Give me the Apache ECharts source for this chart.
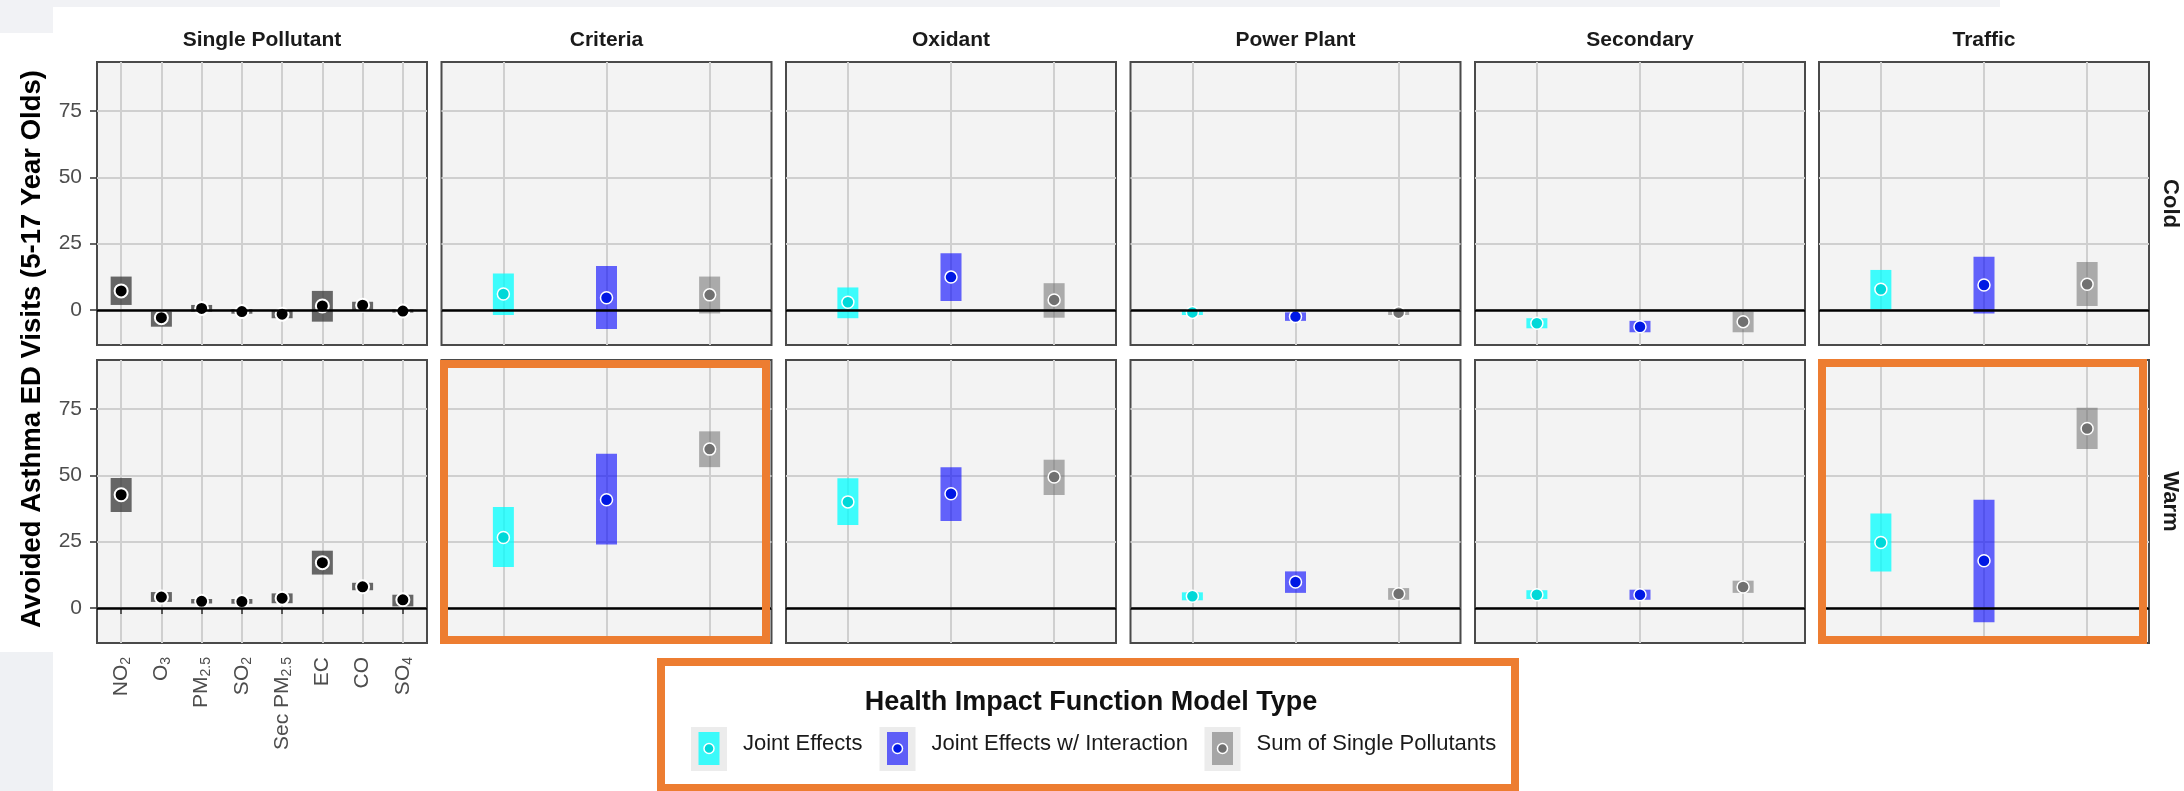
<!DOCTYPE html>
<html>
<head>
<meta charset="utf-8">
<script src="https://cdn.jsdelivr.net/npm/echarts@6/dist/echarts.min.js"></script>
<style>
  html, body { margin: 0; padding: 0; background: #fff; }
  #main { width: 2184px; height: 791px; }
</style>
</head>
<body>
<div id="main"></div>
<script>
// facets
const seasons = ['Cold', 'Warm'];
const panels = ['Single Pollutant', 'Criteria', 'Oxidant', 'Power Plant', 'Secondary', 'Traffic'];
const models = ['Joint Effects', 'Joint Effects w/ Interaction', 'Sum of Single Pollutants'];
const pollutants = ['NO2', 'O3', 'PM2.5', 'SO2', 'Sec PM2.5', 'EC', 'CO', 'SO4'];
const pollutantTicks = ['NO{s|2}', 'O{s|3}', 'PM{s|2.5}', 'SO{s|2}', 'Sec PM{s|2.5}', 'EC', 'CO', 'SO{s|4}'];
const yTicks = [0, 25, 50, 75];

// single pollutant models (estimate, lower, upper)
const singleColdEst = [7.2, -2.9, 0.6, -0.6, -1.6, 1.5, 1.8, -0.4];
const singleColdLo  = [1.9, -6.3, -0.6, -1.4, -3.1, -4.4, 0.0, -1.0];
const singleColdHi  = [12.6, -0.6, 1.9, 0.3, 0.0, 7.2, 3.1, 0.2];
const singleWarmEst = [42.7, 4.1, 2.5, 2.4, 3.7, 17.1, 8.0, 3.1];
const singleWarmLo  = [36.2, 2.3, 1.7, 1.6, 1.8, 12.6, 6.7, 0.6];
const singleWarmHi  = [49.0, 6.0, 3.4, 3.4, 5.5, 21.6, 9.5, 5.0];

// multipollutant groups: one row per group (Criteria..Traffic), one column per model
const coldEst = [[6.0, 4.6, 5.7], [2.9, 12.4, 3.8], [-0.9, -2.5, -1.0], [-5.0, -6.3, -4.4], [7.8, 9.4, 9.7]];
const coldLo  = [[-1.9, -7.2, -1.3], [-3.1, 3.4, -2.9], [-1.9, -4.1, -1.9], [-6.9, -8.4, -8.4], [0.3, -1.3, 1.5]];
const coldHi  = [[13.8, 16.6, 12.6], [8.5, 21.4, 10.1], [0.0, -0.9, -0.4], [-3.1, -4.1, -0.6], [15.1, 20.1, 18.1]];
const warmEst = [[26.6, 40.8, 59.9], [40.0, 43.1, 49.4], [4.4, 9.8, 5.4], [5.0, 5.0, 7.9], [24.7, 17.8, 67.7]];
const warmLo  = [[15.5, 23.9, 53.1], [31.3, 32.8, 42.6], [2.9, 5.7, 3.1], [3.4, 3.1, 5.7], [13.8, -5.4, 59.9]];
const warmHi  = [[38.1, 58.2, 66.6], [48.9, 53.1, 55.9], [5.9, 13.8, 7.5], [6.7, 6.9, 10.3], [35.6, 40.8, 75.5]];

// colours: 3 models + single pollutant
const boxFill = ['rgba(0,255,255,0.75)', 'rgba(0,0,255,0.6)', 'rgba(110,110,110,0.55)', 'rgba(55,55,55,0.75)'];
const pointFill = ['#00d8d8', '#0018e4', '#707070', '#000000'];

const FONT = "'Liberation Sans', Arial, sans-serif";
const panelLeft = [97, 441.5, 786, 1130.5, 1475, 1819];
const panelW = 330;
const rowTop = [62, 360];
const panelH = 283;

let grids = [], xAxes = [], yAxes = [], series = [];

function renderBox(params, api) {
    let x = api.value(0);
    let top = api.coord([x, api.value(2)]);
    let bot = api.coord([x, api.value(1)]);
    let w = 21;
    return {
        type: 'rect',
        shape: { x: top[0] - w / 2, y: top[1], width: w, height: Math.max(bot[1] - top[1], 1) },
        style: { fill: boxFill[api.value(3)] }
    };
}

seasons.forEach(function (season, r) {
    panels.forEach(function (panel, c) {
        let g = r * 6 + c;
        let single = c === 0;
        let n = single ? pollutants.length : models.length;
        let est, lo, hi;
        if (single) {
            est = r ? singleWarmEst : singleColdEst;
            lo = r ? singleWarmLo : singleColdLo;
            hi = r ? singleWarmHi : singleColdHi;
        } else {
            est = (r ? warmEst : coldEst)[c - 1];
            lo = (r ? warmLo : coldLo)[c - 1];
            hi = (r ? warmHi : coldHi)[c - 1];
        }
        let xs = [];
        for (let i = 1; i <= n; i++) xs.push(i);
        let showX = single && r === 1;

        grids.push({
            left: panelLeft[c], top: rowTop[r], width: panelW, height: panelH,
            show: true, backgroundColor: '#f3f3f3', borderColor: '#4a4a4a', borderWidth: 2
        });
        xAxes.push({
            gridIndex: g, type: 'value', min: 0.4, max: n + 0.6,
            axisLine: { show: false },
            axisTick: { show: showX, customValues: xs, length: 6, lineStyle: { color: '#333', width: 1.5 } },
            axisLabel: {
                show: showX, customValues: xs, rotate: 90, margin: 14,
                fontFamily: FONT, fontSize: 21, color: '#4d4d4d', lineHeight: 24,
                formatter: function (v) { return pollutantTicks[Math.round(v) - 1]; },
                rich: { s: { fontFamily: FONT, fontSize: 14, color: '#4d4d4d', lineHeight: 14, verticalAlign: 'bottom' } }
            },
            splitLine: { show: true, lineStyle: { color: '#cfcfcf', width: 2 } }
        });
        yAxes.push({
            gridIndex: g, type: 'value', min: -13.2, max: 93.5,
            axisLine: { show: false },
            axisTick: { show: single, customValues: yTicks, length: 7, lineStyle: { color: '#333', width: 1.5 } },
            axisLabel: { show: single, customValues: yTicks, margin: 15, fontFamily: FONT, fontSize: 21, color: '#4d4d4d' },
            splitLine: { show: true, lineStyle: { color: '#cfcfcf', width: 2 } }
        });

        let boxes = [], points = [];
        for (let i = 0; i < n; i++) {
            let m = single ? 3 : i;
            boxes.push([i + 1, lo[i], hi[i], m]);
            points.push({ value: [i + 1, est[i]], itemStyle: { color: pointFill[m] } });
        }
        series.push({
            type: 'custom', xAxisIndex: g, yAxisIndex: g, z: 2,
            renderItem: renderBox, encode: { x: 0, y: [1, 2] }, data: boxes,
            markLine: {
                silent: true, symbol: ['none', 'none'], label: { show: false },
                lineStyle: { color: '#000', width: 2.5, type: 'solid' },
                data: [{ yAxis: 0 }]
            }
        });
        series.push({
            type: 'scatter', xAxisIndex: g, yAxisIndex: g, z: 3,
            symbolSize: single ? 13 : 12,
            itemStyle: { borderColor: '#fff', borderWidth: single ? 2 : 1.5, opacity: 1 },
            data: points
        });
    });
});

// texts, highlight frames and legend
let graphics = [
    { type: 'rect', z: -10, shape: { x: 0, y: 0, width: 2000, height: 7 }, style: { fill: '#f1f2f5' } },
    { type: 'rect', z: -10, shape: { x: 0, y: 0, width: 53, height: 33 }, style: { fill: '#f1f2f5' } },
    { type: 'rect', z: -10, shape: { x: 0, y: 652, width: 53, height: 139 }, style: { fill: '#eff1f4' } },
    {
        type: 'text', x: 32, y: 349, rotation: Math.PI / 2,
        style: { text: 'Avoided Asthma ED Visits (5-17 Year Olds)', font: 'bold 27.5px ' + FONT, fill: '#000', align: 'center', verticalAlign: 'middle' }
    }
];
panels.forEach(function (p, c) {
    graphics.push({
        type: 'text', x: panelLeft[c] + panelW / 2, y: 40,
        style: { text: p, font: 'bold 21px ' + FONT, fill: '#1a1a1a', align: 'center', verticalAlign: 'middle' }
    });
});
seasons.forEach(function (s, r) {
    graphics.push({
        type: 'text', x: 2170, y: rowTop[r] + panelH / 2, rotation: -Math.PI / 2,
        style: { text: s, font: 'bold 22px ' + FONT, fill: '#1a1a1a', align: 'center', verticalAlign: 'middle' }
    });
});
[[444, 364, 322, 276], [1822, 363, 321, 277], [661, 662, 854, 126]].forEach(function (b) {
    graphics.push({
        type: 'rect', z: 100, shape: { x: b[0], y: b[1], width: b[2], height: b[3] },
        style: { fill: null, stroke: '#ed7d31', lineWidth: 8 }
    });
});
graphics.push({
    type: 'text', x: 1091, y: 703,
    style: { text: 'Health Impact Function Model Type', font: 'bold 27px ' + FONT, fill: '#111', align: 'center', verticalAlign: 'middle' }
});
const legendKeyX = [709, 897.5, 1222.5];
models.forEach(function (m, i) {
    let kx = legendKeyX[i];
    graphics.push({ type: 'rect', shape: { x: kx - 18, y: 727, width: 36, height: 44 }, style: { fill: '#ececec' } });
    graphics.push({ type: 'rect', shape: { x: kx - 10.5, y: 732, width: 21, height: 33 }, style: { fill: boxFill[i] } });
    graphics.push({ type: 'circle', shape: { cx: kx, cy: 748.5, r: 5 }, style: { fill: pointFill[i], stroke: '#fff', lineWidth: 1.5 } });
    graphics.push({
        type: 'text', x: kx + 34, y: 744,
        style: { text: m, font: '22px ' + FONT, fill: '#1a1a1a', align: 'left', verticalAlign: 'middle' }
    });
});

let chart = echarts.init(document.getElementById('main'));
chart.setOption({
    animation: false,
    backgroundColor: '#fff',
    grid: grids,
    xAxis: xAxes,
    yAxis: yAxes,
    series: series,
    graphic: graphics
});
</script>
</body>
</html>
